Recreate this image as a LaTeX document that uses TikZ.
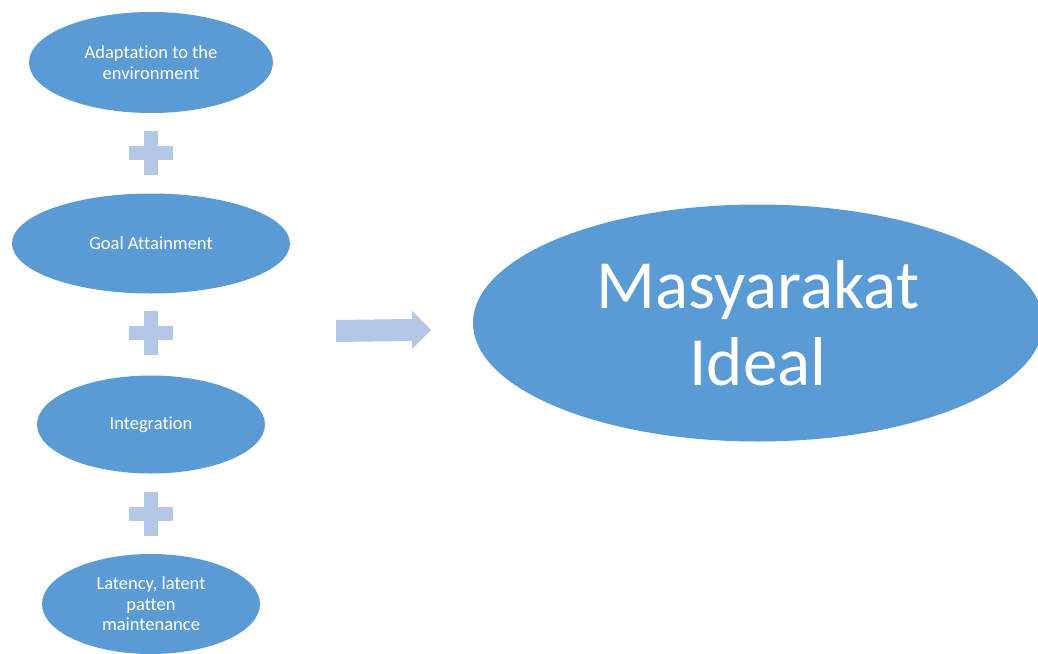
\documentclass[tikz,border=0pt]{standalone}
\usepackage{fontspec}
\setmainfont{Carlito}[Ligatures=NoCommon]
\usetikzlibrary{shapes.geometric}
\definecolor{ellblue}{HTML}{5B9BD5}
\definecolor{lightblue}{HTML}{B4C7E7}
\tikzset{
  oval/.style={ellipse, fill=ellblue, draw=none, text=white, inner sep=0pt,
    align=center, font=\fontsize{18.5}{20.5}\selectfont},
  bigoval/.style={ellipse, fill=ellblue, draw=none, text=white, inner sep=0pt,
    align=center, font=\fontsize{69}{77}\selectfont},
  plusshape/.style={fill=lightblue, draw=none},
  pics/plussign/.style={code={
    \fill[plusshape] (-7,-22) rectangle (7,22);
    \fill[plusshape] (-22,-7) rectangle (22,7);
  }}
}
\begin{document}
\begin{tikzpicture}[x=1pt,y=-1pt]
\useasboundingbox (0,0) rectangle (1038,653);
\begin{scope}
\clip (0,0) rectangle (1038,653);
\node[oval, minimum width=244pt, minimum height=101pt] (adapt) at (151,62.5) {Adaptation to the\\environment};
\node[oval, minimum width=278pt, minimum height=100pt] (goal) at (151,243.5) {Goal Attainment};
\node[oval, minimum width=228pt, minimum height=98pt] (integ) at (151,424.5) {Integration};
\node[oval, minimum width=218pt, minimum height=100pt] (latent) at (151,604) {Latency, latent\\patten\\maintenance};
\node[bigoval, minimum width=570pt, minimum height=237pt] (ideal) at (758,323) {Masyarakat\\Ideal};
\end{scope}
\pic at (151,153) {plussign};
\pic at (151,333) {plussign};
\pic at (151,514) {plussign};
\fill[plusshape] (336,320) -- (412,319) -- (412,311) -- (431,330) -- (412,349) -- (412,341) -- (336,342) -- cycle;
\end{tikzpicture}
\end{document}
